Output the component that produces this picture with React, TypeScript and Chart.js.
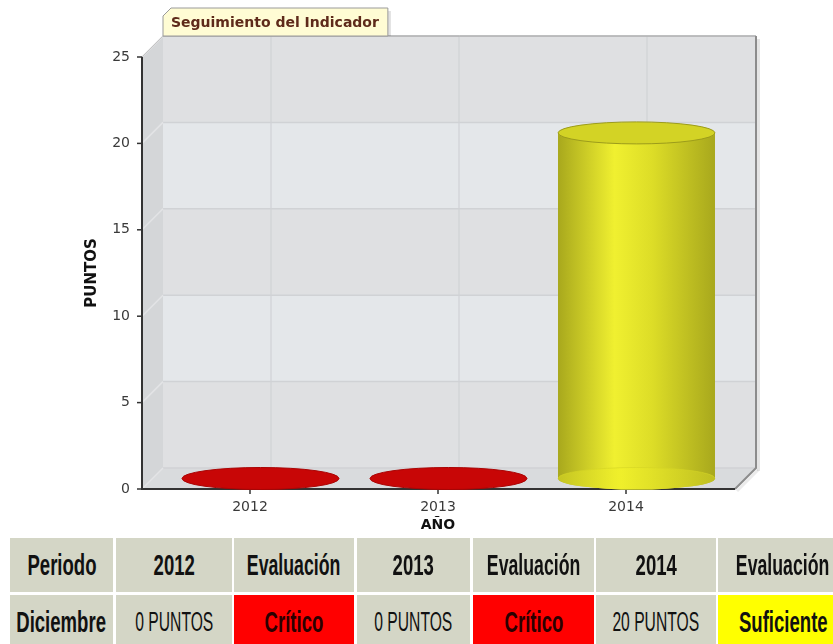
import React, { useEffect, useRef } from "react";
import { Chart, registerables } from "chart.js";

Chart.register(...registerables);

// ---- data ----
const categories = ["2012", "2013", "2014"];
const puntos = [0, 0, 20];
const barColors = ["#c80606", "#c80606", "#f0f02a"];
const yMin = 0;
const yMax = 25;
const yStep = 5;
const chartTitle = "Seguimiento del Indicador";
const yTitle = "PUNTOS";
const xTitle = "AÑO";
const periodLabel = "Periodo";
const periodValue = "Diciembre";
const evalLabel = "Evaluación";
const evaluations = ["Crítico", "Crítico", "Suficiente"];
const evalColors = ["#ff0000", "#ff0000", "#ffff00"];
const unitLabel = "PUNTOS";

// ---- style constants ----
const DEPTH = 21;
const EXT_L = 14;
const EXT_R = 15;

function hexToRgb(h: string) {
  const n = parseInt(h.slice(1), 16);
  return [(n >> 16) & 255, (n >> 8) & 255, n & 255];
}
function shade(h: string, f: number, a = 1) {
  const [r, g, b] = hexToRgb(h);
  const c = (v: number) =>
    Math.max(0, Math.min(255, Math.round(f >= 0 ? v + (255 - v) * f : v * (1 + f))));
  return `rgba(${c(r)},${c(g)},${c(b)},${a})`;
}

function frameGeom(chart: any) {
  const { chartArea, scales } = chart;
  const ys = scales.y;
  const FL = chartArea.left - EXT_L;
  const FR = chartArea.right + EXT_R;
  const FT = ys.getPixelForValue(ys.max);
  const FB = ys.getPixelForValue(ys.min);
  const D = DEPTH;
  return { FL, FR, FT, FB, D, BL: FL + D, BR: FR + D, BT: FT - D, BB: FB - D };
}

const frame3d = {
  id: "frame3d",
  beforeDatasetsDraw(chart: any) {
    const { ctx, scales } = chart;
    const xs = scales.x;
    const ys = scales.y;
    const { FL, FR, FT, FB, D, BL, BR, BT, BB } = frameGeom(chart);
    ctx.save();

    ctx.fillStyle = "rgba(0,0,0,0.10)";
    ctx.fillRect(BR + 1, BT + 3, 3, BB - BT);

    const ticks = ys.ticks.map((t: any) => t.value);
    for (let i = 0; i < ticks.length - 1; i++) {
      const y0 = ys.getPixelForValue(ticks[i]) - D;
      const y1 = ys.getPixelForValue(ticks[i + 1]) - D;
      ctx.fillStyle = i % 2 === 0 ? "#dfe0e2" : "#e4e7ea";
      ctx.fillRect(BL, y1, BR - BL, y0 - y1);
    }

    ctx.fillStyle = "#d4d6d8";
    ctx.beginPath();
    ctx.moveTo(FL, FT);
    ctx.lineTo(BL, BT);
    ctx.lineTo(BL, BB);
    ctx.lineTo(FL, FB);
    ctx.closePath();
    ctx.fill();

    ctx.fillStyle = "#d9dbdd";
    ctx.beginPath();
    ctx.moveTo(FL, FB);
    ctx.lineTo(BL, BB);
    ctx.lineTo(BR, BB);
    ctx.lineTo(FR, FB);
    ctx.closePath();
    ctx.fill();

    ctx.lineWidth = 1.5;
    ticks.forEach((v: number) => {
      const y = ys.getPixelForValue(v);
      ctx.strokeStyle = "#d0d2d5";
      ctx.beginPath();
      ctx.moveTo(BL, y - D);
      ctx.lineTo(BR, y - D);
      ctx.stroke();
      ctx.strokeStyle = "#e3e4e6";
      ctx.beginPath();
      ctx.moveTo(FL, y);
      ctx.lineTo(BL, y - D);
      ctx.stroke();
    });
    ctx.strokeStyle = "#d0d2d5";
    ctx.lineWidth = 1.2;
    xs.ticks.forEach((_t: any, i: number) => {
      const x = xs.getPixelForValue(i) + D;
      ctx.beginPath();
      ctx.moveTo(x, BT);
      ctx.lineTo(x, BB);
      ctx.stroke();
    });

    ctx.lineWidth = 1;
    ctx.strokeStyle = "#a0a0a0";
    ctx.beginPath();
    ctx.moveTo(BL, BT);
    ctx.lineTo(BR, BT);
    ctx.stroke();
    ctx.strokeStyle = "#c4c4c4";
    ctx.beginPath();
    ctx.moveTo(FL, FT);
    ctx.lineTo(BL, BT);
    ctx.stroke();
    ctx.strokeStyle = "#8c8c8c";
    ctx.lineWidth = 2;
    ctx.beginPath();
    ctx.moveTo(BR, BT);
    ctx.lineTo(BR, BB);
    ctx.lineTo(FR, FB);
    ctx.stroke();
    ctx.strokeStyle = "rgba(0,0,0,0.08)";
    ctx.lineWidth = 3;
    ctx.beginPath();
    ctx.moveTo(BR + 2, BB + 2);
    ctx.lineTo(FR + 2, FB + 2);
    ctx.stroke();

    ctx.strokeStyle = "#333333";
    ctx.lineWidth = 2;
    ctx.beginPath();
    ctx.moveTo(FL, FT);
    ctx.lineTo(FL, FB);
    ctx.lineTo(FR, FB);
    ctx.stroke();
    ctx.lineWidth = 1.5;
    ticks.forEach((v: number) => {
      const y = ys.getPixelForValue(v);
      ctx.beginPath();
      ctx.moveTo(FL - 5, y);
      ctx.lineTo(FL, y);
      ctx.stroke();
    });
    xs.ticks.forEach((_t: any, i: number) => {
      const x = xs.getPixelForValue(i);
      ctx.beginPath();
      ctx.moveTo(x, FB);
      ctx.lineTo(x, FB + 5);
      ctx.stroke();
    });
    ctx.restore();
  },
  beforeDatasetDraw() {
    return false;
  },
  afterDatasetsDraw(chart: any) {
    const { ctx } = chart;
    const meta = chart.getDatasetMeta(0);
    const ds = chart.data.datasets[0];
    const D = DEPTH;
    ctx.save();
    meta.data.forEach((bar: any, i: number) => {
      const { x, y, base, width } = bar.getProps(["x", "y", "base", "width"], true);
      const color = ds.backgroundColor[i];
      const cx = x + D / 2;
      const rx = width / 2;
      const ry = 11;
      const yT = y - D / 2;
      const yB = base - D / 2;
      if (yB - yT < 1) {
        ctx.fillStyle = color;
        ctx.beginPath();
        ctx.ellipse(cx, yB, rx, ry, 0, 0, Math.PI * 2);
        ctx.fill();
        ctx.strokeStyle = shade(color, -0.15);
        ctx.lineWidth = 1;
        ctx.stroke();
        return;
      }
      const g = ctx.createLinearGradient(cx - rx, 0, cx + rx, 0);
      g.addColorStop(0, shade(color, -0.3));
      g.addColorStop(0.36, shade(color, 0.03));
      g.addColorStop(0.6, shade(color, -0.08));
      g.addColorStop(1, shade(color, -0.3));
      ctx.fillStyle = g;
      ctx.beginPath();
      ctx.moveTo(cx - rx, yT);
      ctx.lineTo(cx - rx, yB);
      ctx.ellipse(cx, yB, rx, ry, 0, Math.PI, 0, true);
      ctx.lineTo(cx + rx, yT);
      ctx.closePath();
      ctx.fill();
      const g2 = ctx.createLinearGradient(cx - rx, 0, cx + rx, 0);
      g2.addColorStop(0, shade(color, -0.15, 0.8));
      g2.addColorStop(0.4, shade(color, 0, 0.8));
      g2.addColorStop(1, shade(color, -0.18, 0.8));
      ctx.fillStyle = g2;
      ctx.beginPath();
      ctx.ellipse(cx, yB, rx, ry, 0, 0, Math.PI * 2);
      ctx.fill();
      ctx.strokeStyle = shade(color, -0.12, 0.6);
      ctx.lineWidth = 1;
      ctx.beginPath();
      ctx.ellipse(cx, yB, rx, ry, 0, Math.PI, 0, false);
      ctx.stroke();
      ctx.fillStyle = shade(color, -0.12);
      ctx.beginPath();
      ctx.ellipse(cx, yT, rx, ry, 0, 0, Math.PI * 2);
      ctx.fill();
      ctx.strokeStyle = shade(color, -0.35);
      ctx.lineWidth = 1;
      ctx.stroke();
    });
    ctx.restore();
  },
  afterDraw(chart: any) {
    const { ctx } = chart;
    const { BL, BT } = frameGeom(chart);
    ctx.save();
    ctx.font = "bold 14px 'DejaVu Sans'";
    const tw = ctx.measureText(chartTitle).width;
    const left = BL;
    const right = BL + tw + 17;
    const top = 8;
    const bottom = BT;
    const ch = 8;
    ctx.fillStyle = "rgba(0,0,0,0.12)";
    ctx.fillRect(right, top + 3, 3, bottom - top - 3);
    ctx.beginPath();
    ctx.moveTo(left, bottom);
    ctx.lineTo(left, top + ch);
    ctx.lineTo(left + ch, top);
    ctx.lineTo(right, top);
    ctx.lineTo(right, bottom);
    ctx.closePath();
    ctx.fillStyle = "#fffcd4";
    ctx.fill();
    ctx.strokeStyle = "#9a9a9a";
    ctx.lineWidth = 1;
    ctx.stroke();
    ctx.fillStyle = "#5e2a1a";
    ctx.textBaseline = "middle";
    ctx.textAlign = "left";
    ctx.fillText(chartTitle, left + 8, (top + bottom) / 2 + 1);
    ctx.restore();
  },
};

function ChartCanvas() {
  const ref = useRef<HTMLCanvasElement | null>(null);
  useEffect(() => {
    if (!ref.current) return;
    const chart = new Chart(ref.current, {
      type: "bar",
      data: {
        labels: categories,
        datasets: [
          {
            data: puntos,
            backgroundColor: barColors,
            borderWidth: 0,
            categoryPercentage: 1,
            barPercentage: 0.835,
          },
        ],
      },
      options: {
        responsive: false,
        animation: false,
        layout: { padding: { left: 0, right: 113, top: 57, bottom: 0 } },
        plugins: { legend: { display: false }, tooltip: { enabled: false }, title: { display: false } },
        scales: {
          x: {
            type: "category",
            offset: true,
            grid: { display: false, drawTicks: false },
            border: { display: false },
            ticks: { padding: 10, color: "#3a3a3a", font: { family: "'DejaVu Sans'", size: 14 } },
            title: {
              display: true,
              text: xTitle,
              color: "#111",
              font: { family: "'DejaVu Sans'", size: 14, weight: "bold" },
              padding: { top: 0, bottom: 6 },
            },
            afterFit: (s: any) => {
              s.height = 51;
            },
          },
          y: {
            min: yMin,
            max: yMax,
            ticks: { stepSize: yStep, padding: 26, color: "#3a3a3a", font: { family: "'DejaVu Sans'", size: 14 } },
            grid: { display: false, drawTicks: false },
            border: { display: false },
            title: {
              display: true,
              text: yTitle,
              color: "#111",
              font: { family: "'DejaVu Sans'", size: 15, weight: "bold" },
              padding: { top: 83, bottom: 0 },
            },
            afterFit: (s: any) => {
              s.width = 156;
            },
          },
        },
      },
      plugins: [frame3d],
    } as any);
    return () => chart.destroy();
  }, []);
  return <canvas ref={ref} width={833} height={540} style={{ position: "absolute", left: 0, top: 0 }} />;
}

// table layout (style only)
const colLeft = [10, 116, 234, 357, 473, 596, 718];
const colWidth = [103, 116, 120, 113, 121, 120, 130];
const rowTop = [538, 595];
const rowHeight = [54, 54];
const HEADER_BG = "#d4d6c6";

function Cell({ col, row, bg, children, size, weight, scale, color }: any) {
  return (
    <div
      style={{
        position: "absolute",
        left: colLeft[col],
        top: rowTop[row],
        width: colWidth[col],
        height: rowHeight[row],
        background: bg,
        display: "flex",
        alignItems: "center",
        justifyContent: "center",
        overflow: "hidden",
      }}
    >
      <span
        style={{
          display: "inline-block",
          whiteSpace: "nowrap",
          fontFamily: "'Liberation Sans', Arial, sans-serif",
          fontSize: size,
          fontWeight: weight,
          color: color || "#111",
          transform: `scaleX(${scale})`,
          lineHeight: 1,
        }}
      >
        {children}
      </span>
    </div>
  );
}

export default function App() {
  const header = [periodLabel];
  const row2: any[] = [{ text: periodValue, bg: HEADER_BG, bold: true }];
  categories.forEach((c, i) => {
    header.push(c, evalLabel);
    row2.push({ text: `${puntos[i]} ${unitLabel}`, bg: HEADER_BG, bold: false });
    row2.push({ text: evaluations[i], bg: evalColors[i], bold: true, eval: true });
  });
  return (
    <div
      style={{
        position: "fixed",
        left: 0,
        top: 0,
        width: 833,
        height: 644,
        overflow: "hidden",
        background: "#ffffff",
      }}
    >
      <ChartCanvas />
      {header.map((h, i) => (
        <Cell key={"h" + i} col={i} row={0} bg={HEADER_BG} size={29} weight={700} scale={i % 2 === 0 && i > 0 ? 0.61 : 0.64}>
          {h}
        </Cell>
      ))}
      {row2.map((c, i) => (
        <Cell
          key={"r" + i}
          col={i}
          row={1}
          bg={c.bg}
          size={c.bold ? 29 : 27}
          weight={c.bold ? 700 : 400}
          scale={c.bold ? 0.64 : 0.58}
          color={c.eval && c.bg === "#ff0000" ? "#2a0000" : "#111"}
        >
          {c.text}
        </Cell>
      ))}
    </div>
  );
}
